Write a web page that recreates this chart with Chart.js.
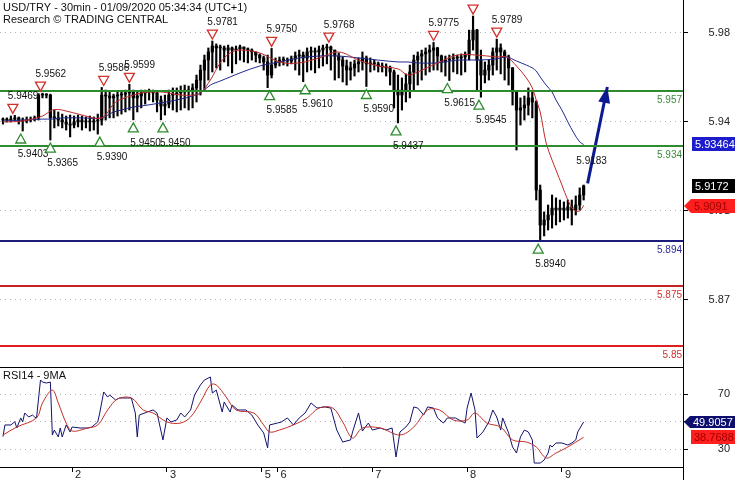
<!DOCTYPE html>
<html>
<head>
<meta charset="utf-8">
<script src="https://cdn.jsdelivr.net/npm/chart.js@4.4.0/dist/chart.umd.min.js"></script>
<style>
  html, body { margin: 0; padding: 0; background: #fff; }
  #wrap { position: relative; width: 735px; height: 480px; overflow: hidden; }
  #priceBox { position: absolute; left: 0; top: 0; width: 735px; height: 367px; }
  #rsiBox { position: absolute; left: 0; top: 367px; width: 735px; height: 113px; }
</style>
</head>
<body>
<div id="wrap">
  <div id="priceBox"><canvas id="priceChart"></canvas></div>
  <div id="rsiBox"><canvas id="rsiChart"></canvas></div>
</div>
<script>
// 30 min bars, bar 0 = 1 Jan 06:30; one candle entry covers two bars
const barsPerCandle = 2;

const highs = [5.9458, 5.9458, 5.9466, 5.9469, 5.9462, 5.9458, 5.9462, 5.9462, 5.9466, 5.9560,
  5.9562, 5.9560, 5.9558, 5.9491, 5.9483, 5.9474, 5.9466, 5.9470, 5.9466, 5.9470,
  5.9466, 5.9462, 5.9466, 5.9462, 5.9474, 5.9586, 5.9575, 5.9567, 5.9558, 5.9567,
  5.9571, 5.9575, 5.9599, 5.9575, 5.9567, 5.9575, 5.9575, 5.9579, 5.9575, 5.9567,
  5.9550, 5.9554, 5.9575, 5.9584, 5.9584, 5.9592, 5.9596, 5.9592, 5.9601, 5.9638,
  5.9680, 5.9722, 5.9752, 5.9781, 5.9769, 5.9764, 5.9760, 5.9764, 5.9756, 5.9760,
  5.9764, 5.9756, 5.9752, 5.9748, 5.9735, 5.9727, 5.9718, 5.9722, 5.9750, 5.9710,
  5.9714, 5.9714, 5.9710, 5.9718, 5.9735, 5.9743, 5.9735, 5.9752, 5.9756, 5.9752,
  5.9760, 5.9764, 5.9768, 5.9760, 5.9743, 5.9731, 5.9714, 5.9701, 5.9693, 5.9701,
  5.9710, 5.9735, 5.9718, 5.9710, 5.9701, 5.9693, 5.9689, 5.9685, 5.9676, 5.9659,
  5.9638, 5.9626, 5.9643, 5.9680, 5.9722, 5.9735, 5.9743, 5.9752, 5.9764, 5.9775,
  5.9755, 5.9722, 5.9718, 5.9722, 5.9727, 5.9722, 5.9727, 5.9735, 5.9827, 5.9886,
  5.9830, 5.9743, 5.9693, 5.9701, 5.9752, 5.9789, 5.9769, 5.9743, 5.9722, 5.9670,
  5.9570, 5.9542, 5.9550, 5.9584, 5.9567, 5.9530, 5.9176, 5.9063, 5.9092, 5.9134,
  5.9122, 5.9113, 5.9105, 5.9113, 5.9113, 5.9130, 5.9164, 5.9176];
const lows = [5.9432, 5.9441, 5.9441, 5.9445, 5.9432, 5.9403, 5.9437, 5.9441, 5.9445, 5.9449,
  5.9542, 5.9542, 5.9365, 5.9416, 5.9424, 5.9416, 5.9407, 5.9378, 5.9416, 5.9420,
  5.9407, 5.9416, 5.9403, 5.9407, 5.9390, 5.9428, 5.9449, 5.9458, 5.9458, 5.9466,
  5.9474, 5.9483, 5.9491, 5.9450, 5.9483, 5.9500, 5.9516, 5.9533, 5.9525, 5.9483,
  5.9450, 5.9470, 5.9500, 5.9491, 5.9483, 5.9491, 5.9500, 5.9491, 5.9500, 5.9525,
  5.9554, 5.9575, 5.9617, 5.9651, 5.9668, 5.9659, 5.9693, 5.9676, 5.9647, 5.9685,
  5.9701, 5.9693, 5.9689, 5.9701, 5.9693, 5.9689, 5.9659, 5.9585, 5.9626, 5.9668,
  5.9676, 5.9680, 5.9676, 5.9685, 5.9659, 5.9638, 5.9610, 5.9651, 5.9659, 5.9647,
  5.9668, 5.9676, 5.9685, 5.9659, 5.9617, 5.9626, 5.9609, 5.9596, 5.9617, 5.9634,
  5.9651, 5.9659, 5.9590, 5.9651, 5.9659, 5.9651, 5.9651, 5.9634, 5.9596, 5.9500,
  5.9437, 5.9491, 5.9525, 5.9542, 5.9575, 5.9596, 5.9617, 5.9638, 5.9651, 5.9659,
  5.9659, 5.9651, 5.9634, 5.9615, 5.9651, 5.9643, 5.9638, 5.9651, 5.9701, 5.9743,
  5.9575, 5.9545, 5.9605, 5.9617, 5.9638, 5.9659, 5.9643, 5.9617, 5.9596, 5.9512,
  5.9323, 5.9428, 5.9449, 5.9470, 5.9458, 5.9113, 5.8940, 5.8962, 5.8987, 5.8995,
  5.9008, 5.9021, 5.9029, 5.9037, 5.9008, 5.9050, 5.9071, 5.9113];
const closes = [5.9449, 5.9449, 5.9453, 5.9458, 5.9445, 5.9445, 5.9449, 5.9453, 5.9458, 5.9554,
  5.9558, 5.9554, 5.9458, 5.9458, 5.9449, 5.9441, 5.9432, 5.9428, 5.9441, 5.9449,
  5.9441, 5.9445, 5.9441, 5.9445, 5.9449, 5.9554, 5.9550, 5.9542, 5.9550, 5.9554,
  5.9558, 5.9563, 5.9571, 5.9542, 5.9550, 5.9563, 5.9567, 5.9571, 5.9563, 5.9533,
  5.9508, 5.9516, 5.9554, 5.9558, 5.9563, 5.9567, 5.9575, 5.9571, 5.9584, 5.9617,
  5.9659, 5.9701, 5.9735, 5.9760, 5.9752, 5.9752, 5.9743, 5.9752, 5.9743, 5.9748,
  5.9756, 5.9748, 5.9743, 5.9735, 5.9722, 5.9710, 5.9693, 5.9638, 5.9680, 5.9693,
  5.9701, 5.9701, 5.9697, 5.9706, 5.9718, 5.9722, 5.9710, 5.9735, 5.9739, 5.9735,
  5.9743, 5.9752, 5.9756, 5.9743, 5.9718, 5.9701, 5.9676, 5.9659, 5.9668, 5.9685,
  5.9693, 5.9710, 5.9685, 5.9689, 5.9685, 5.9676, 5.9672, 5.9668, 5.9651, 5.9575,
  5.9554, 5.9575, 5.9601, 5.9651, 5.9701, 5.9718, 5.9727, 5.9735, 5.9743, 5.9752,
  5.9718, 5.9693, 5.9701, 5.9706, 5.9710, 5.9710, 5.9714, 5.9722, 5.9785, 5.9827,
  5.9701, 5.9638, 5.9659, 5.9680, 5.9735, 5.9752, 5.9735, 5.9714, 5.9668, 5.9567,
  5.9491, 5.9500, 5.9512, 5.9542, 5.9525, 5.9155, 5.9008, 5.9029, 5.9050, 5.9079,
  5.9071, 5.9079, 5.9071, 5.9084, 5.9071, 5.9092, 5.9134, 5.9172];

// moving averages (red = fast, blue = slow)
const maBars = [0, 10, 20, 25, 30, 40, 50, 56, 60, 66, 70, 80, 90, 96, 100, 105, 110, 115, 120, 130,
  140, 150, 160, 170, 180, 190, 200, 205, 210, 220, 230, 240, 250, 255, 260, 265, 268, 270, 272, 275,
  278, 280, 283, 286, 289, 292, 294];
const maFast = [5.9441, 5.9445, 5.9466, 5.9491, 5.9491, 5.9470, 5.9458, 5.9516, 5.9537, 5.9554,
  5.9563, 5.9567, 5.9554, 5.9554, 5.9563, 5.9617, 5.9689, 5.9731, 5.9743, 5.9731,
  5.9693, 5.9689, 5.9710, 5.9735, 5.9701, 5.9676, 5.9664, 5.9638, 5.9651, 5.9689,
  5.9722, 5.9722, 5.9714, 5.9714, 5.9676, 5.9626, 5.9584, 5.9533, 5.9483, 5.9353,
  5.9281, 5.9239, 5.9176, 5.9113, 5.9071, 5.9067, 5.9091];
const maSlow = [5.9445, 5.9449, 5.9453, 5.9453, 5.9458, 5.9458, 5.9458, 5.9483, 5.9491, 5.9504,
  5.9508, 5.9521, 5.9537, 5.9550, 5.9563, 5.9596, 5.9613, 5.9630, 5.9647, 5.9676,
  5.9693, 5.9710, 5.9718, 5.9718, 5.9710, 5.9701, 5.9693, 5.9693, 5.9689, 5.9689,
  5.9701, 5.9701, 5.9706, 5.9714, 5.9697, 5.9680, 5.9668, 5.9655, 5.9630, 5.9596,
  5.9567, 5.9533, 5.9491, 5.9441, 5.9395, 5.9357, 5.93464];

// support / resistance
const levelValues = [5.957, 5.934, 5.894, 5.875, 5.85];

// pivots
const pivotHighBars = [5, 19, 51, 64, 106, 136, 165, 218, 238, 250];
const pivotHighs = [5.9469, 5.9562, 5.9586, 5.9599, 5.9781, 5.9750, 5.9768, 5.9775, 5.9886, 5.9789];
const pivotHighLabels = ['5.9469', '5.9562', '5.9586', '5.9599', '5.9781', '5.9750', '5.9768', '5.9775', '', '5.9789'];
const pivotLowBars = [9, 24, 49, 66, 81, 135, 153, 184, 199, 225, 241, 271];
const pivotLows = [5.9403, 5.9365, 5.9390, 5.9450, 5.9450, 5.9585, 5.9610, 5.9590, 5.9437, 5.9615, 5.9545, 5.8940];

// projected move
const projBars = [296, 306];
const projPrices = [5.9183, 5.9588];

// RSI 14 and its 9 MA
const rsiBars = [0, 1, 4, 6, 7, 9, 10, 11, 13, 15, 16, 17, 19, 20, 22, 24, 25, 26, 28, 29,
  30, 32, 34, 35, 39, 43, 45, 48, 49, 51, 53, 54, 57, 59, 63, 65, 67, 68, 69, 73,
  76, 78, 81, 83, 85, 88, 90, 92, 95, 97, 100, 102, 105, 106, 108, 111, 112, 115, 116, 119,
  123, 126, 129, 132, 134, 135, 139, 141, 144, 147, 150, 153, 156, 159, 163, 166, 169, 172, 176, 177,
  180, 182, 185, 187, 191, 194, 197, 199, 201, 204, 206, 208, 210, 213, 215, 218, 220, 223, 225, 229,
  231, 234, 235, 237, 239, 240, 243, 246, 248, 250, 252, 253, 256, 258, 260, 262, 264, 266, 268, 269,
  272, 274, 276, 277, 278, 280, 283, 286, 288, 290, 291, 294];
const rsiValues = [39.2, 47.7, 47.7, 50.1, 45.5, 52.8, 49.9, 56.4, 53.5, 54.9, 53.5, 52.8, 80.4, 78.9, 78.2, 78.9, 40.4, 44.0, 39.0, 45.5,
  39.0, 47.7, 42.6, 46.2, 45.5, 45.5, 46.2, 49.9, 56.4, 71.7, 68.0, 69.5, 65.9, 67.3, 67.3, 67.3, 56.4, 39.0, 54.9, 57.1,
  58.6, 56.4, 36.8, 52.8, 49.9, 51.3, 56.4, 53.5, 58.6, 69.5, 76.8, 80.4, 82.6, 70.9, 73.1, 57.1, 64.4, 57.1, 62.2, 58.6,
  58.6, 54.9, 47.7, 41.9, 31.0, 47.7, 49.1, 49.9, 52.8, 47.7, 52.8, 56.4, 63.7, 60.0, 60.8, 60.0, 44.0, 35.3, 36.8, 42.6,
  56.4, 43.3, 49.1, 44.0, 45.5, 44.0, 45.5, 24.4, 42.6, 46.2, 49.9, 60.8, 60.0, 54.9, 60.8, 60.0, 52.8, 49.1, 52.8, 52.8,
  51.3, 49.1, 60.0, 70.9, 58.6, 38.2, 42.6, 49.9, 58.6, 53.5, 44.0, 52.8, 41.9, 31.7, 27.3, 39.0, 44.0, 42.6, 36.8, 20.0,
  20.0, 22.2, 27.3, 33.1, 31.7, 34.6, 34.6, 33.1, 34.6, 36.8, 42.6, 49.9057];
const rsiMaBars = [0, 7, 17, 20, 25, 28, 32, 35, 43, 48, 53, 58, 65, 71, 76, 83, 90, 95, 100, 105,
  108, 113, 118, 127, 132, 135, 140, 147, 154, 160, 167, 172, 177, 182, 191, 201, 208, 215, 221, 228,
  235, 239, 245, 252, 258, 265, 270, 275, 280, 286, 294];
const rsiMaValues = [40.4, 46.2, 52.8, 63.7, 73.1, 63.7, 49.1, 43.3, 45.5, 47.7, 58.6, 66.6, 67.3, 58.6, 56.4, 49.9, 49.1, 53.5, 64.4, 76.8,
  76.8, 68.0, 58.6, 56.4, 47.7, 42.6, 44.0, 47.7, 52.8, 60.0, 60.0, 49.9, 38.2, 45.5, 45.5, 40.4, 46.2, 58.6, 58.6, 51.3,
  51.3, 56.4, 49.1, 46.2, 36.8, 35.3, 31.7, 23.7, 27.3, 31.7, 38.7688];

// axes
const dayTicks = [35, 83, 131, 139, 187, 235, 283];
const dayLabels = ['2', '3', '5', '6', '7', '8', '9'];
const priceTicks = [5.8693, 5.9067, 5.9441, 5.9815];
const rsiTicks = [30, 50, 70];

const FONT = "'Liberation Sans', Arial, sans-serif";
Chart.defaults.font.family = FONT;
Chart.defaults.font.size = 11;
Chart.defaults.color = '#222';

const levelColors = ['#2e8b2e', '#2e8b2e', '#1c1c7a', '#c42222', '#e01e1e'];
const levelText = ['#3a8a3a', '#3a8a3a', '#2a2a9a', '#d23030', '#d23030'];

const candles = highs.map((h, i) => ({ x: i * barsPerCandle, y: [lows[i], h] }));
const bodies = closes.map((c, i) => ({ x: i * barsPerCandle, y: [i ? closes[i - 1] : c, c] }));
const toPts = (xs, ys) => xs.map((b, i) => ({ x: b, y: ys[i] }));

function tag(ctx, left, y, h, text, bg, fg, pointer) {
  ctx.fillStyle = bg;
  ctx.beginPath();
  if (pointer) {
    ctx.moveTo(pointer, y);
    ctx.lineTo(left, y - h / 2);
  } else {
    ctx.moveTo(left, y - h / 2);
  }
  ctx.lineTo(735, y - h / 2);
  ctx.lineTo(735, y + h / 2);
  ctx.lineTo(left, y + h / 2);
  ctx.closePath();
  ctx.fill();
  ctx.fillStyle = fg;
  ctx.font = '11px ' + FONT;
  ctx.textAlign = 'left';
  ctx.textBaseline = 'middle';
  ctx.fillText(text, left + 3, y + 0.5);
}

const priceOverlay = {
  id: 'priceOverlay',
  afterDraw(chart) {
    const { ctx, chartArea: a, scales: { x, y } } = chart;
    ctx.save();

    // levels
    levelValues.forEach((v, i) => {
      const py = Math.round(y.getPixelForValue(v));
      ctx.strokeStyle = levelColors[i];
      ctx.lineWidth = 2;
      ctx.beginPath();
      ctx.moveTo(a.left, py);
      ctx.lineTo(a.right, py);
      ctx.stroke();
      ctx.fillStyle = levelText[i];
      ctx.font = '10px ' + FONT;
      ctx.textAlign = 'right';
      ctx.textBaseline = 'middle';
      ctx.fillText(String(v), a.right - 1, py + 9);
    });

    // pivot highs
    ctx.font = '10px ' + FONT;
    ctx.lineWidth = 1.3;
    pivotHighBars.forEach((b, i) => {
      const px = x.getPixelForValue(b);
      const py = y.getPixelForValue(pivotHighs[i]);
      ctx.fillStyle = '#fff';
      ctx.strokeStyle = '#d0302a';
      ctx.beginPath();
      ctx.moveTo(px - 5, py - 11);
      ctx.lineTo(px + 5, py - 11);
      ctx.lineTo(px, py - 2);
      ctx.closePath();
      ctx.fill();
      ctx.stroke();
      if (pivotHighLabels[i]) {
        ctx.fillStyle = '#111';
        ctx.textAlign = 'left';
        ctx.textBaseline = 'middle';
        ctx.fillText(pivotHighLabels[i], px - 5, py - 19);
      }
    });
    // pivot lows
    pivotLowBars.forEach((b, i) => {
      const px = x.getPixelForValue(b);
      const py = y.getPixelForValue(pivotLows[i]);
      ctx.fillStyle = '#fff';
      ctx.strokeStyle = '#2e8b2e';
      ctx.beginPath();
      ctx.moveTo(px, py + 3);
      ctx.lineTo(px + 5, py + 12);
      ctx.lineTo(px - 5, py + 12);
      ctx.closePath();
      ctx.fill();
      ctx.stroke();
      ctx.fillStyle = '#111';
      ctx.textAlign = 'left';
      ctx.textBaseline = 'middle';
      ctx.fillText(pivotLows[i].toFixed(4), px - 3, py + 23);
    });

    // projection arrow head + start label
    const x0 = x.getPixelForValue(projBars[0]), y0 = y.getPixelForValue(projPrices[0]);
    const x1 = x.getPixelForValue(projBars[1]), y1 = y.getPixelForValue(projPrices[1]);
    const ang = Math.atan2(y1 - y0, x1 - x0);
    const len = 16, half = 6;
    ctx.fillStyle = '#0b1a8f';
    ctx.beginPath();
    ctx.moveTo(x1, y1);
    ctx.lineTo(x1 - len * Math.cos(ang) + half * Math.sin(ang), y1 - len * Math.sin(ang) - half * Math.cos(ang));
    ctx.lineTo(x1 - len * Math.cos(ang) - half * Math.sin(ang), y1 - len * Math.sin(ang) + half * Math.cos(ang));
    ctx.closePath();
    ctx.fill();
    ctx.fillStyle = '#111';
    ctx.textAlign = 'center';
    ctx.fillText(projPrices[0].toFixed(4), x0 + 4, y0 - 22);

    // right border
    ctx.strokeStyle = '#000';
    ctx.lineWidth = 1;
    ctx.beginPath();
    ctx.moveTo(a.right + 0.5, 0);
    ctx.lineTo(a.right + 0.5, chart.height);
    ctx.stroke();

    // title
    ctx.fillStyle = '#111';
    ctx.font = '11px ' + FONT;
    ctx.textAlign = 'left';
    ctx.fillText('USD/TRY - 30min - 01/09/2020 05:34:34 (UTC+1)', 3, 8);
    ctx.fillText('Research © TRADING CENTRAL', 3, 20);

    // value tags
    tag(ctx, 692, Math.round(y.getPixelForValue(maSlow[maSlow.length - 1])), 14,
      maSlow[maSlow.length - 1].toFixed(5), '#1c1ccc', '#fff');
    tag(ctx, 692, Math.round(y.getPixelForValue(closes[closes.length - 1])), 14,
      closes[closes.length - 1].toFixed(4), '#000', '#fff');
    tag(ctx, 691, Math.round(y.getPixelForValue(maFast[maFast.length - 1])) + 1, 14,
      maFast[maFast.length - 1].toFixed(4), '#ff1f1f', '#a00000', 684);
    ctx.restore();
  }
};

const xRange = { min: -1.5, max: 344.3 };

new Chart('priceChart', {
  type: 'bar',
  data: {
    datasets: [
      { type: 'line', data: toPts(projBars, projPrices), borderColor: '#0b1a8f', borderWidth: 3, pointRadius: 0, order: 0 },
      { type: 'line', data: toPts(maBars, maFast), borderColor: '#c02a2a', borderWidth: 1, pointRadius: 0, tension: 0.35, order: 1 },
      { type: 'line', data: toPts(maBars, maSlow), borderColor: '#1f2a8c', borderWidth: 1, pointRadius: 0, tension: 0.35, order: 1 },
      { data: bodies, backgroundColor: '#000', barThickness: 2.5, grouped: false, minBarLength: 1, order: 3 },
      { data: candles, backgroundColor: '#000', barThickness: 1.5, grouped: false, order: 3 }
    ]
  },
  options: {
    animation: false,
    responsive: true,
    maintainAspectRatio: false,
    layout: { padding: { left: 0, right: 5, top: 0, bottom: 0 } },
    plugins: { legend: { display: false }, tooltip: { enabled: false } },
    scales: {
      x: { type: 'linear', display: false, offset: false, min: xRange.min, max: xRange.max, grid: { offset: false } },
      y: {
        position: 'right',
        min: 5.84114, max: 5.99534,
        beginAtZero: false,
        afterBuildTicks: s => { s.ticks = priceTicks.map(v => ({ value: v })); },
        afterFit: s => { s.width = 47; s.paddingTop = 0; s.paddingBottom = 0; },
        ticks: { callback: v => v.toFixed(2), crossAlign: 'far', color: '#222' },
        grid: { color: '#b4b4b4', drawTicks: true, tickLength: 5, tickColor: '#000', tickBorderDash: [] },
        border: { display: false, dash: [1, 4] }
      }
    }
  },
  plugins: [priceOverlay]
});

const rsiOverlay = {
  id: 'rsiOverlay',
  afterDraw(chart) {
    const { ctx, chartArea: a, scales: { y } } = chart;
    ctx.save();
    ctx.strokeStyle = '#000';
    ctx.lineWidth = 1;
    ctx.beginPath();
    ctx.moveTo(0, a.top + 0.5);
    ctx.lineTo(a.right, a.top + 0.5);
    ctx.moveTo(0, a.bottom + 0.5);
    ctx.lineTo(a.right, a.bottom + 0.5);
    ctx.moveTo(a.right + 0.5, 0);
    ctx.lineTo(a.right + 0.5, chart.height);
    ctx.stroke();
    ctx.fillStyle = '#111';
    ctx.font = '11px ' + FONT;
    ctx.textAlign = 'left';
    ctx.textBaseline = 'middle';
    ctx.fillText('RSI14 - 9MA', 3, 9);
    const rLast = rsiValues[rsiValues.length - 1];
    const mLast = rsiMaValues[rsiMaValues.length - 1];
    tag(ctx, 690, Math.round(y.getPixelForValue(rLast)), 12, rLast.toFixed(4), '#0e0e6e', '#fff', 684);
    tag(ctx, 691, Math.round(y.getPixelForValue(mLast)), 14, mLast.toFixed(4), '#ff1f1f', '#a00000');
    ctx.restore();
  }
};

new Chart('rsiChart', {
  type: 'line',
  data: {
    datasets: [
      { data: toPts(rsiMaBars, rsiMaValues), borderColor: '#c0302a', borderWidth: 1, pointRadius: 0, tension: 0.35 },
      { data: toPts(rsiBars, rsiValues), borderColor: '#12126e', borderWidth: 1, pointRadius: 0, tension: 0 }
    ]
  },
  options: {
    animation: false,
    responsive: true,
    maintainAspectRatio: false,
    layout: { padding: { left: 0, right: 5, top: 0, bottom: 0 } },
    plugins: { legend: { display: false }, tooltip: { enabled: false } },
    scales: {
      x: {
        type: 'linear', min: xRange.min, max: xRange.max, offset: false,
        afterBuildTicks: s => { s.ticks = dayTicks.map(v => ({ value: v })); },
        afterFit: s => { s.height = 13; s.paddingLeft = 0; s.paddingRight = 0; },
        ticks: { autoSkip: false, maxRotation: 0, align: 'start', labelOffset: 3, padding: -4,
          callback: (v, i) => dayLabels[i], color: '#222' },
        grid: { drawOnChartArea: false, drawTicks: true, tickLength: 5, tickColor: '#000', offset: false },
        border: { display: false }
      },
      y: {
        position: 'right', min: 17.13, max: 89.85,
        afterBuildTicks: s => { s.ticks = rsiTicks.map(v => ({ value: v })); },
        afterFit: s => { s.width = 47; s.paddingTop = 0; s.paddingBottom = 0; },
        ticks: { crossAlign: 'far', color: '#222' },
        grid: { color: '#b4b4b4', drawTicks: true, tickLength: 5, tickColor: '#000', tickBorderDash: [] },
        border: { display: false, dash: [1, 4] }
      }
    }
  },
  plugins: [rsiOverlay]
});
</script>
</body>
</html>
